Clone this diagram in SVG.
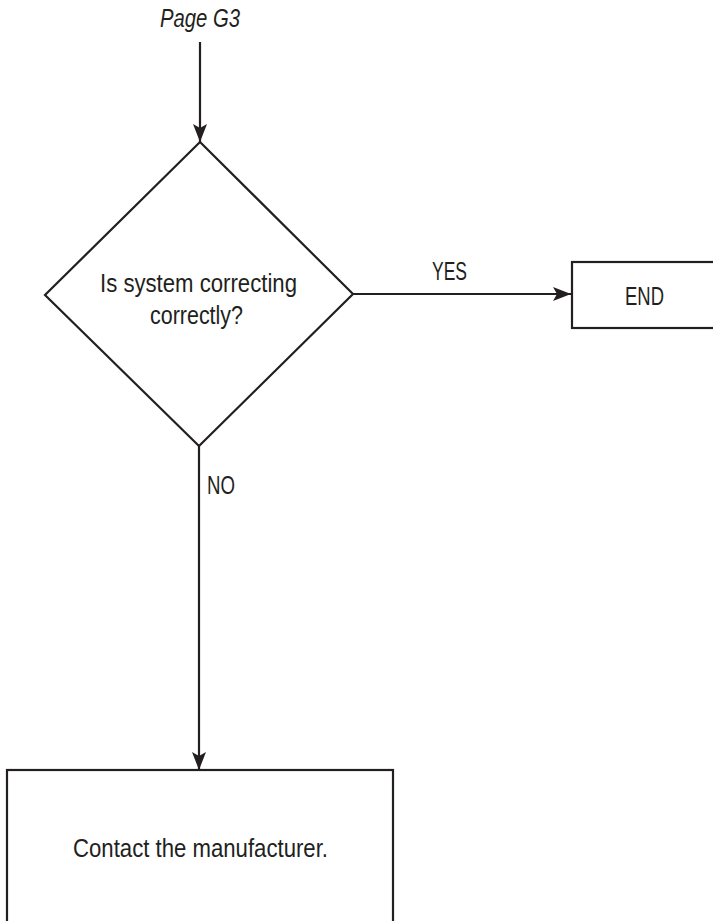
<svg xmlns="http://www.w3.org/2000/svg" width="713" height="921" viewBox="0 0 713 921">
  <defs>
    <marker id="arrow" markerUnits="userSpaceOnUse" markerWidth="18" markerHeight="14" refX="18" refY="7" orient="auto">
      <path d="M0,0 L18,7 L0,14 L4,7 Z" fill="#231f20"/>
    </marker>
  </defs>
  <style>
    .shape { fill: #ffffff; stroke: #231f20; stroke-width: 2.2; }
    .link { fill: none; stroke: #231f20; stroke-width: 2.2; marker-end: url(#arrow); }
    .label { font-family: "Liberation Sans", Arial, sans-serif; font-size: 25px; fill: #231f20; }
  </style>
  <rect width="713" height="921" fill="#ffffff"/>

  <g id="connectors">
    <line class="link" x1="200" y1="42" x2="200" y2="142"/>
    <line class="link" x1="353" y1="294" x2="571" y2="294"/>
    <line class="link" x1="199" y1="446" x2="199" y2="770"/>
  </g>

  <g id="start">
    <text class="label" x="200" y="27" text-anchor="middle" font-style="italic" textLength="80" lengthAdjust="spacingAndGlyphs">Page G3</text>
  </g>

  <g id="decision">
    <polygon class="shape" points="200,142 353,294 199,446 45,295"/>
    <text class="label" x="198.5" y="292" text-anchor="middle" textLength="197" lengthAdjust="spacingAndGlyphs">Is system correcting</text>
    <text class="label" x="196.5" y="324" text-anchor="middle" textLength="93" lengthAdjust="spacingAndGlyphs">correctly?</text>
  </g>

  <g id="label-yes">
    <text class="label" x="449.5" y="280" text-anchor="middle" textLength="35" lengthAdjust="spacingAndGlyphs">YES</text>
  </g>

  <g id="end">
    <rect class="shape" x="572" y="262" width="160" height="66"/>
    <text class="label" x="644.5" y="305" text-anchor="middle" textLength="39" lengthAdjust="spacingAndGlyphs">END</text>
  </g>

  <g id="label-no">
    <text class="label" x="207" y="494" textLength="28" lengthAdjust="spacingAndGlyphs">NO</text>
  </g>

  <g id="contact">
    <rect class="shape" x="7" y="770" width="386" height="170"/>
    <text class="label" x="200.5" y="857" text-anchor="middle" textLength="255" lengthAdjust="spacingAndGlyphs">Contact the manufacturer.</text>
  </g>
</svg>
